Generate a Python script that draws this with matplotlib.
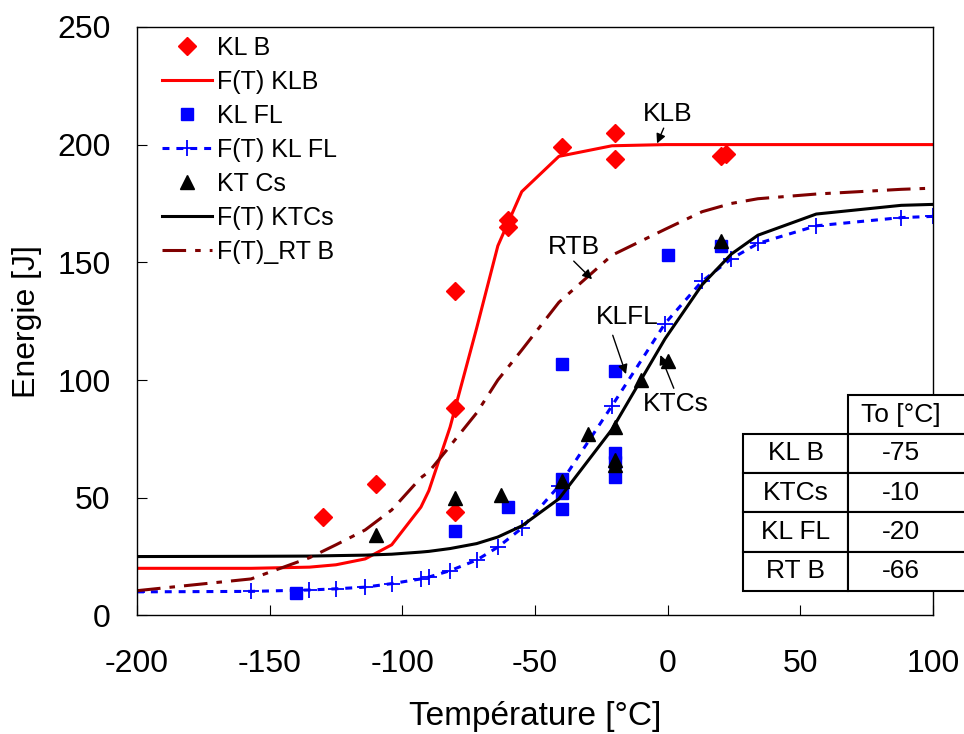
import matplotlib
matplotlib.use("Agg")
import matplotlib.pyplot as plt
from matplotlib.patches import Rectangle

plt.rcParams['font.family'] = ['Liberation Sans', 'DejaVu Sans']
plt.rcParams['lines.scale_dashes'] = False
plt.rcParams['axes.unicode_minus'] = False

# measured points
klb_T = [-130, -110, -80, -80, -80, -60, -60, -40, -20, -20, 20, 22]
klb_E = [42, 56, 138, 88, 44, 168, 165, 199, 205, 194, 195, 196]

klfl_T = [-140, -80, -60, -40, -40, -40, -40, -20, -20, -20, -20, 0, 20]
klfl_E = [9.5, 36, 46, 107, 58, 52, 45, 104, 69, 65, 59, 153, 157]

ktcs_T = [-110, -80, -63, -40, -30, -20, -20, -20, -10, 0, 20]
ktcs_E = [34, 50, 51, 57, 77, 80, 66, 64, 100, 108, 159]

# fitted curves F(T)
T_fit = [-200, -157, -135, -125, -114, -104, -93, -90, -82, -72, -64, -55,
         -41, -21, -1, 13, 24, 34, 56, 88, 100]
klb_fit = [20, 20, 20.5, 21.5, 24, 30, 46, 53, 80, 122, 157, 180,
           195, 199.5, 200, 200, 200, 200, 200, 200, 200]
klfl_fit = [10, 10.2, 10.8, 11.3, 12, 13.5, 15.5, 16.3, 19, 23.5, 29, 37,
            55, 89, 124, 142, 151.5, 158, 165.5, 169, 169.5]
ktcs_fit = [25, 25.1, 25.2, 25.4, 25.6, 26, 26.9, 27.2, 28.4, 30.5, 33.3, 38,
            49.5, 79, 117.5, 140.5, 153.5, 161.5, 170.5, 174.2, 174.6]
rtb_fit = [10.5, 15.5, 24.5, 30, 36.3, 44.8, 58.5, 61, 72, 86, 100, 112.7,
           133, 153, 164, 171.5, 175, 177, 179, 181, 181.5]

# To table
tab_rows = ['KL B', 'KTCs', 'KL FL', 'RT B']
tab_vals = ['-75', '-10', '-20', '-66']
tab_head = 'To [°C]'

W, H = 964, 734
fig = plt.figure(figsize=(W / 100, H / 100), dpi=100)
ax = fig.add_axes([137 / W, 1 - 615.4 / H, 796 / W, 588.5 / H])

ax.plot(klb_T, klb_E, 'D', color='#ff0000', ms=9.5, ls='none', label='KL B')
ax.plot(T_fit, klb_fit, '-', color='#ff0000', lw=2.2, label='F(T) KLB')
ax.plot(klfl_T, klfl_E, 's', color='#0000ff', ms=9, ls='none', label='KL FL')
ax.plot(T_fit, klfl_fit, color='#0000ff', lw=2.2, dashes=(5, 5), marker='+',
        ms=12, mew=1.3, label='F(T) KL FL')
ax.plot(ktcs_T, ktcs_E, '^', color='black', ms=10, ls='none', label='KT Cs')
ax.plot(T_fit, ktcs_fit, '-', color='black', lw=2.2, label='F(T) KTCs')
ax.plot(T_fit, rtb_fit, color='#7f0000', lw=2.2, dashes=(17, 6.5, 4, 6.5),
        label='F(T)_RT B')

ax.set_xlim(-200, 100)
ax.set_ylim(0, 250)
ax.set_xticks(range(-200, 101, 50))
ax.set_yticks(range(0, 251, 50))
ax.tick_params(direction='in', length=7, labelsize=23)
ax.tick_params(axis='x', pad=24)
ax.tick_params(axis='y', pad=19)
for s in ax.spines.values():
    s.set_linewidth(1)
ax.set_xlabel('Température [°C]', fontsize=24, labelpad=16)
ax.set_ylabel('Energie [J]', fontsize=23, labelpad=11)

ax.legend(loc='upper left', bbox_to_anchor=(0.031, 0.985), frameon=False,
          fontsize=18, handlelength=2.0, handletextpad=0.2, labelspacing=0.4,
          borderpad=0, borderaxespad=0, numpoints=1)

# labels with arrows
notes = [('KLB', (0, 213), (-1.5, 207), (-4, 200.5)),
         ('RTB', (-35.4, 156.5), (-35.4, 150.5), (-28.5, 142.8)),
         ('KLFL', (-15.1, 126.7), (-20.7, 119), (-15.7, 102.5)),
         ('KTCs', (3.2, 89.8), (2.3, 96.5), (-2.75, 110.6))]
for txt, tpos, a0, a1 in notes:
    ax.text(tpos[0], tpos[1], txt, fontsize=19, ha='center', va='center')
    ax.annotate('', xy=a1, xytext=a0,
                arrowprops=dict(arrowstyle='-|>', color='black', lw=1,
                                mutation_scale=14, shrinkA=0, shrinkB=0))

# table in lower right
def fx(px):
    return px / W

def fy(py):
    return 1 - py / H

x0, x1, x2 = 743, 848, 966
ys = [395, 434, 473, 512, 551.5, 591]
fig.add_artist(Rectangle((fx(x1), fy(ys[1])), fx(x2) - fx(x1), fy(ys[0]) - fy(ys[1]),
                         transform=fig.transFigure, facecolor='white',
                         edgecolor='black', lw=1.5))
fig.text(fx((x1 + x2) / 2 - 6), fy((ys[0] + ys[1]) / 2), tab_head, fontsize=19,
         ha='center', va='center')
for i, (r, v) in enumerate(zip(tab_rows, tab_vals)):
    top, bot = ys[i + 1], ys[i + 2]
    for a, b, t in [(x0, x1, r), (x1, x2, v)]:
        fig.add_artist(Rectangle((fx(a), fy(bot)), fx(b) - fx(a), fy(top) - fy(bot),
                                 transform=fig.transFigure, facecolor='white',
                                 edgecolor='black', lw=1.5))
        cx = (a + b) / 2 if t == r else (a + b) / 2 - 6
        fig.text(fx(cx), fy((top + bot) / 2), t, fontsize=19,
                 ha='center', va='center')

fig.savefig('out.png', dpi=100)
